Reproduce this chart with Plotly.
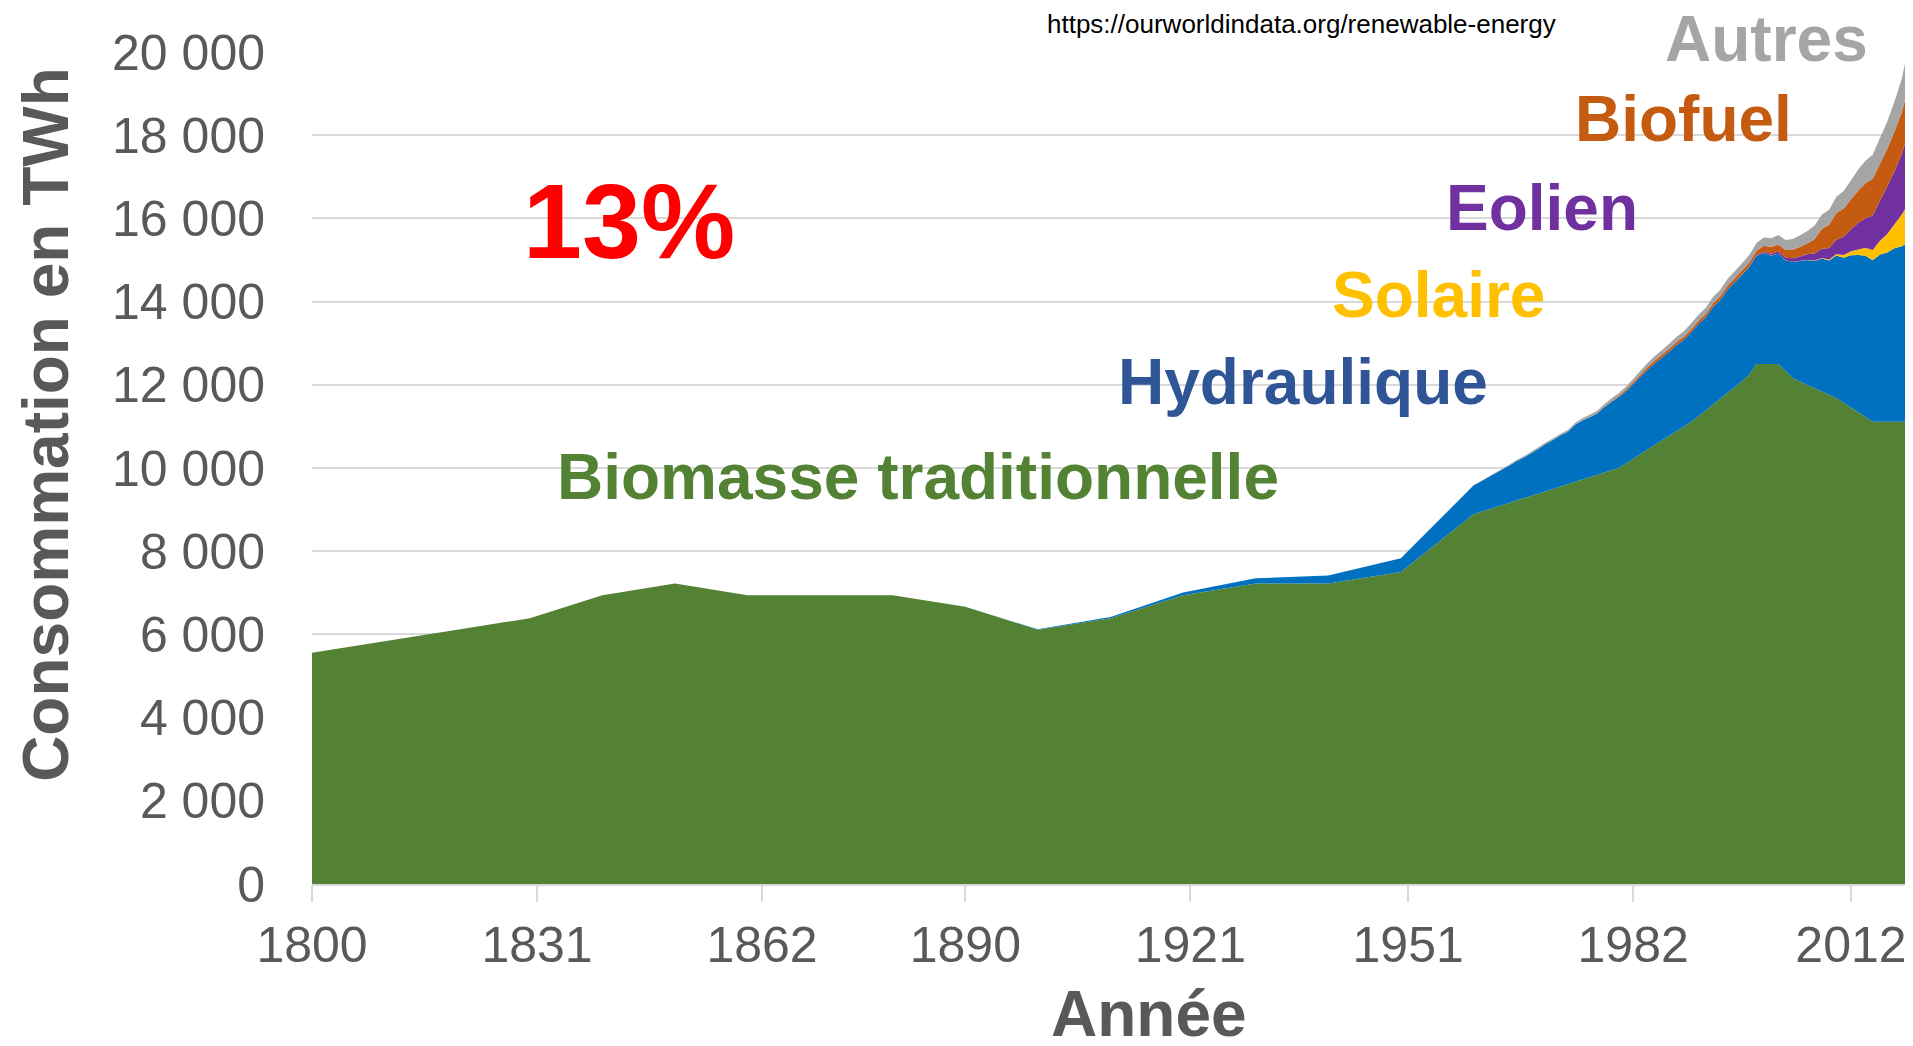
import plotly.graph_objects as go

years = [1800, 1810, 1820, 1830, 1840, 1850, 1860, 1870, 1880, 1890,
         1900, 1910, 1920, 1930, 1940, 1950, 1960,
         1965, 1966, 1967, 1968, 1969, 1970, 1971, 1972, 1973, 1974,
         1975, 1976, 1977, 1978, 1979, 1980, 1981, 1982, 1983, 1984,
         1985, 1986, 1987, 1988, 1989, 1990, 1991, 1992, 1993, 1994,
         1995, 1996, 1997, 1998, 1999, 2000, 2001, 2002, 2003, 2004,
         2005, 2006, 2007, 2008, 2009, 2010, 2011, 2012, 2013, 2014,
         2015, 2016, 2017, 2018, 2019, 2020]

biomasse = [5556, 5833, 6111, 6389, 6944, 7222, 6944, 6944, 6944, 6667,
            6111, 6389, 6944, 7222, 7222, 7500, 8889,
            9167, 9222, 9278, 9333, 9389, 9444, 9500, 9556, 9611, 9667,
            9722, 9778, 9833, 9889, 9944, 10000, 10111, 10222, 10333, 10444,
            10556, 10667, 10778, 10889, 11000, 11111, 11250, 11389, 11528, 11667,
            11806, 11944, 12083, 12250, 12500, 12500, 12500, 12500, 12330, 12156,
            12077, 11998, 11918, 11839, 11760, 11680, 11566, 11452, 11339, 11225,
            11111, 11111, 11111, 11111, 11111, 11111]

hydraulique = [0, 0, 0, 0, 0, 0, 0, 0, 0, 0,
               10, 30, 64, 128, 192, 332, 688,
               900, 950, 980, 1030, 1080, 1140, 1180, 1230, 1260, 1370,
               1420, 1440, 1470, 1570, 1640, 1700, 1730, 1790, 1860, 1920,
               1960, 1990, 2020, 2070, 2080, 2150, 2210, 2230, 2340, 2370,
               2480, 2520, 2560, 2580, 2600, 2660, 2610, 2650, 2660, 2800,
               2900, 3000, 3060, 3200, 3230, 3430, 3490, 3660, 3780, 3880,
               3880, 4020, 4070, 4170, 4220, 4330]

solaire = [0, 0, 0, 0, 0, 0, 0, 0, 0, 0,
           0, 0, 0, 0, 0, 0, 0,
           0, 0, 0, 0, 0, 0, 0, 0, 0, 0,
           0, 0, 0, 0, 0, 0, 0, 0, 0, 0,
           0, 0, 0, 0, 0, 0, 0, 0, 0, 0,
           0, 0, 0, 0, 0, 1, 2, 2, 3, 4,
           5, 6, 8, 12, 20, 32, 63, 97, 134, 190,
           250, 330, 445, 580, 760, 940]

eolien = [0, 0, 0, 0, 0, 0, 0, 0, 0, 0,
          0, 0, 0, 0, 0, 0, 0,
          0, 0, 0, 0, 0, 0, 0, 0, 0, 0,
          0, 0, 0, 0, 0, 0, 0, 0, 0, 0,
          1, 1, 2, 2, 3, 4, 4, 5, 6, 7,
          8, 10, 12, 16, 21, 31, 38, 52, 63, 85,
          104, 133, 171, 220, 277, 346, 437, 525, 640, 710,
          831, 962, 1140, 1270, 1450, 1750]

biofuel = [0, 0, 0, 0, 0, 0, 0, 0, 0, 0,
           0, 0, 0, 0, 0, 0, 0,
           0, 0, 0, 0, 0, 0, 0, 0, 0, 0,
           5, 8, 12, 16, 20, 30, 38, 46, 55, 62,
           68, 70, 72, 70, 70, 72, 75, 78, 80, 82,
           85, 88, 92, 95, 100, 150, 160, 170, 185, 200,
           230, 260, 350, 480, 560, 640, 680, 720, 780, 840,
           880, 890, 900, 960, 1010, 1080]

autres = [0, 0, 0, 0, 0, 0, 0, 0, 0, 0,
          0, 0, 0, 0, 0, 0, 0,
          25, 27, 29, 31, 33, 35, 37, 40, 43, 46,
          50, 53, 56, 60, 64, 68, 75, 82, 90, 98,
          105, 110, 118, 125, 133, 140, 145, 150, 155, 160,
          165, 170, 175, 180, 190, 200, 210, 225, 240, 260,
          280, 300, 320, 340, 360, 390, 420, 460, 500, 540,
          580, 620, 660, 720, 800, 950]

x_tickvals = [1800, 1831, 1862, 1890, 1921, 1951, 1982, 2012]
y_tickvals = [0, 2000, 4000, 6000, 8000, 10000, 12000, 14000, 16000, 18000, 20000]
y_ticktext = ["0", "2 000", "4 000", "6 000", "8 000", "10 000", "12 000",
              "14 000", "16 000", "18 000", "20 000"]

series = [
    ("Biomasse traditionnelle", biomasse, "#548235"),
    ("Hydraulique", hydraulique, "#0070C0"),
    ("Solaire", solaire, "#FFC000"),
    ("Eolien", eolien, "#7030A0"),
    ("Biofuel", biofuel, "#C55A11"),
    ("Autres", autres, "#A5A5A5"),
]

FONT = "Liberation Sans, Arial, sans-serif"
GREY = "#595959"

fig = go.Figure()
for name, vals, col in series:
    fig.add_trace(go.Scatter(
        x=years, y=vals, name=name, stackgroup="one", mode="none",
        fillcolor=col, showlegend=False, hoverinfo="x+y+name"))

labels = [
    ("13%", 0.1985, 0.797, "#FF0000", 106),
    ("Biomasse traditionnelle", 0.3793, 0.4887, "#548235", 64),
    ("Hydraulique", 0.6205, 0.6036, "#2F5597", 64),
    ("Solaire", 0.7051, 0.7077, "#FFC000", 64),
    ("Eolien", 0.7702, 0.812, "#7030A0", 64),
    ("Biofuel", 0.8585, 0.919, "#C55A11", 64),
    ("Autres", 0.9105, 1.0153, "#A5A5A5", 64),
]
annotations = []
for txt, x, y, col, size in labels:
    annotations.append(dict(text="<b>%s</b>" % txt, x=x, y=y, xref="paper", yref="paper",
                            xanchor="center", yanchor="middle", showarrow=False,
                            font=dict(family=FONT, size=size, color=col)))
annotations.append(dict(text="https://ourworldindata.org/renewable-energy", x=0.6199, y=1.0337,
                        xref="paper", yref="paper", xanchor="center", yanchor="middle",
                        showarrow=False, font=dict(family=FONT, size=26, color="#000000")))
annotations.append(dict(text="<b>Consommation en TWh</b>", x=-0.1666, y=0.553, xref="paper", yref="paper",
                        xanchor="center", yanchor="middle", textangle=-90, showarrow=False,
                        font=dict(family=FONT, size=64, color=GREY)))
annotations.append(dict(text="<b>Année</b>", x=0.524, y=-0.1563, xref="paper", yref="paper",
                        xanchor="center", yanchor="middle", showarrow=False,
                        font=dict(family=FONT, size=64, color=GREY)))

# the page body has an 8px margin: the figure is sized/positioned to compensate
fig.update_layout(
    template="none",
    width=1905, height=1038,
    margin=dict(l=304, r=4, t=44, b=162, autoexpand=False),
    paper_bgcolor="white", plot_bgcolor="white",
    font=dict(family=FONT, color=GREY),
    showlegend=False,
    annotations=annotations,
    xaxis=dict(range=[1800, 2020], tickmode="array", tickvals=x_tickvals,
               ticktext=[str(v) for v in x_tickvals],
               ticks="outside", ticklen=16, tickwidth=2, tickcolor="#D9D9D9",
               showline=True, linecolor="#D9D9D9", linewidth=2,
               showgrid=False, zeroline=False, automargin=False,
               tickfont=dict(family=FONT, size=50, color=GREY), ticklabelstandoff=0),
    yaxis=dict(range=[0, 20000], tickmode="array", tickvals=y_tickvals, ticktext=y_ticktext,
               showgrid=True, gridcolor="#D9D9D9", gridwidth=2,
               showline=False, zeroline=False, ticks="", automargin=False,
               tickfont=dict(family=FONT, size=50, color=GREY), ticklabelstandoff=46),
)

fig.write_html("out.html")
